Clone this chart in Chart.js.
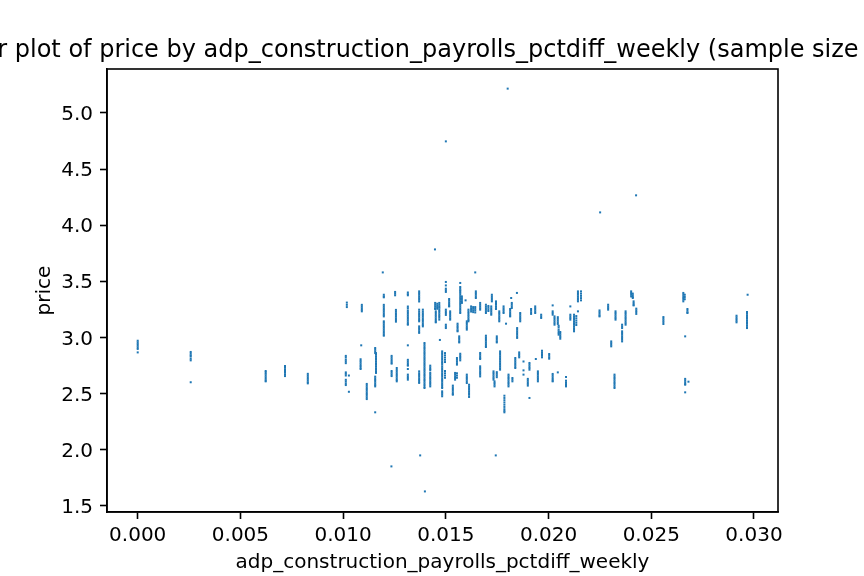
<!DOCTYPE html>
<html>
<head>
<meta charset="utf-8">
<script src="https://cdn.jsdelivr.net/npm/chart.js@4.4.0/dist/chart.umd.min.js"></script>
<style>
  html, body { margin: 0; padding: 0; background: #fff; }
</style>
</head>
<body>
<canvas id="price_scatter" width="864" height="576"></canvas>
<script>
// weekly pct diff of adp construction payrolls, one entry per vertical streak
var weeklyPctDiff = [
    0.0, 0.00258, 0.00623, 0.00717, 0.00828, 0.01018, 0.01013, 0.01028, 0.01088, 0.01091,
    0.01085, 0.01115, 0.01156, 0.0116, 0.01193, 0.01198, 0.01235, 0.01236, 0.01253, 0.01257,
    0.01261, 0.01315, 0.0137, 0.01375, 0.01388, 0.01396, 0.01398, 0.01424, 0.01447, 0.01448,
    0.01458, 0.01468, 0.01451, 0.01471, 0.01482, 0.01496, 0.015, 0.01516, 0.01521, 0.01534,
    0.01545, 0.01554, 0.01557, 0.01565, 0.0157, 0.01578, 0.01596, 0.01602, 0.0161, 0.01613,
    0.01623, 0.01633, 0.01643, 0.01646, 0.01667, 0.01695, 0.01707, 0.01721, 0.01724, 0.01732,
    0.01737, 0.01743, 0.01744, 0.01748, 0.0176, 0.01764, 0.01781, 0.01785, 0.01793, 0.01801,
    0.01805, 0.01813, 0.01818, 0.01821, 0.01824, 0.01838, 0.01846, 0.01847, 0.01857, 0.01862,
    0.01878, 0.01899, 0.01907, 0.01915, 0.01935, 0.01938, 0.01948, 0.01964, 0.01968, 0.02003,
    0.0202, 0.02029, 0.02045, 0.02049, 0.02057, 0.02085, 0.02106, 0.02124, 0.02135, 0.02143,
    0.02158, 0.02248, 0.02251, 0.0229, 0.02305, 0.02321, 0.02326, 0.02358, 0.02375, 0.02402,
    0.0241, 0.02414, 0.02426, 0.02427, 0.02559, 0.02656, 0.02663, 0.02665, 0.02676, 0.02681,
    0.02915, 0.02969, 0.02966
];

// prices seen at each of the x values above (same order)
var prices = [
    [2.97, 2.955, 2.94, 2.925, 2.91, 2.897, 2.866],
    [2.87, 2.855, 2.84, 2.83, 2.81, 2.795, 2.60],
    [2.70, 2.688, 2.675, 2.66, 2.645, 2.63, 2.615, 2.608],
    [2.745, 2.73, 2.715, 2.70, 2.685, 2.67, 2.655],
    [2.675, 2.66, 2.645, 2.63, 2.615, 2.60, 2.59],
    [3.31, 3.29, 3.27],
    [2.835, 2.82, 2.80, 2.785, 2.77, 2.688, 2.675, 2.66, 2.622, 2.607, 2.59, 2.575],
    [2.66, 2.515],
    [2.929],
    [3.29, 3.275, 3.26, 3.245, 3.232],
    [2.805, 2.79, 2.775, 2.76, 2.745, 2.73, 2.718],
    [2.585, 2.57, 2.555, 2.54, 2.525, 2.51, 2.495, 2.48, 2.465, 2.45],
    [2.905, 2.89, 2.875, 2.86, 2.65, 2.635, 2.62, 2.605, 2.59, 2.575, 2.563, 2.332],
    [2.86, 2.845, 2.83, 2.815, 2.80, 2.785, 2.77, 2.755, 2.74, 2.725, 2.71, 2.695, 2.683],
    [3.579],
    [3.38, 3.365, 3.357, 3.29, 3.275, 3.26, 3.245, 3.23, 3.215, 3.20, 3.187, 3.143, 3.13, 3.115,
     3.10, 3.085, 3.07, 3.055, 3.04, 3.025, 3.015],
    [1.85],
    [2.835, 2.82, 2.805, 2.79, 2.775, 2.766, 2.70, 2.685, 2.67, 2.655],
    [3.405, 3.39, 3.375],
    [3.245, 3.23, 3.215, 3.20, 3.185, 3.17, 3.155, 3.14],
    [2.727, 2.71, 2.695, 2.68, 2.665, 2.65, 2.635, 2.62, 2.608],
    [3.40, 3.385, 3.375, 3.275, 3.26, 3.24, 3.225, 3.21, 3.195, 3.18, 3.165, 3.15, 3.135, 3.12,
     3.113, 2.929, 2.80, 2.785, 2.77, 2.755, 2.748, 2.718, 2.668, 2.653, 2.638, 2.623],
    [3.41, 3.395, 3.38, 3.365, 3.35, 3.335, 3.32, 3.247, 3.23, 3.215, 3.20, 3.185, 3.17, 3.155,
     3.143, 3.098, 3.083, 3.068, 3.053, 3.04, 2.697, 2.68, 2.665, 2.65, 2.635, 2.62, 2.605, 2.594],
    [1.948],
    [3.247, 3.23, 3.215, 3.20, 3.185, 3.17, 3.155, 3.14, 3.125, 3.11, 3.098],
    [2.95, 2.935, 2.92, 2.905, 2.89, 2.875, 2.86, 2.845, 2.83, 2.815, 2.80, 2.785, 2.77, 2.755,
     2.74, 2.725, 2.71, 2.695, 2.68, 2.665, 2.65, 2.635, 2.62, 2.605, 2.59, 2.575, 2.56, 2.549],
    [1.627],
    [2.748, 2.733, 2.718, 2.706, 2.683, 2.668, 2.653, 2.638, 2.623, 2.608, 2.593, 2.578, 2.563],
    [3.784],
    [3.307, 3.29, 3.275, 3.26, 3.253],
    [3.30, 3.285, 3.27, 3.255],
    [3.307, 3.29, 3.275, 3.265, 3.25, 3.235, 3.22, 3.205, 3.19, 3.175, 3.158],
    [3.232, 3.217, 3.20, 3.185, 3.17, 3.155, 3.14, 3.134],
    [2.977],
    [2.875, 2.86, 2.845, 2.83, 2.815, 2.80, 2.785, 2.772, 2.757, 2.74, 2.725, 2.71, 2.695, 2.68,
     2.665, 2.65, 2.635, 2.62, 2.605, 2.59, 2.575, 2.56, 2.549, 2.519, 2.505, 2.49, 2.475],
    [2.86, 2.84, 2.82, 2.80, 2.78, 2.70, 2.68, 2.66, 2.64],
    [4.747, 3.494, 3.463, 3.434, 3.42, 3.405, 3.247, 3.232, 3.217, 3.20, 3.113, 3.098, 3.083],
    [3.342, 3.327, 3.312, 3.297, 3.282, 3.276],
    [3.232, 3.217, 3.20, 3.185, 3.17, 3.158],
    [2.57, 2.555, 2.54, 2.525, 2.51, 2.495, 2.489],
    [2.683, 2.668, 2.653, 2.638, 2.623],
    [2.816, 2.80, 2.785, 2.77, 2.757, 2.68, 2.66, 2.64],
    [3.122, 3.107, 3.092, 3.077, 3.062, 3.054],
    [3.009, 2.994, 2.979, 2.964, 2.955],
    [3.485, 3.449, 3.434, 3.42, 3.41, 3.396, 3.38, 3.365, 3.35, 3.335, 3.32, 3.305, 3.29, 3.275,
     3.26, 3.245, 3.23, 3.217, 2.854, 2.84, 2.825, 2.81, 2.795],
    [3.365, 3.35, 3.335, 3.32, 3.307],
    [3.33],
    [3.143, 3.128, 3.113, 3.098, 3.083, 3.069, 2.668, 2.653, 2.638, 2.623, 2.608, 2.593],
    [3.247, 3.232, 3.217, 3.20, 3.185, 3.17, 3.155, 3.143],
    [2.578, 2.563, 2.548, 2.533, 2.518, 2.503, 2.488, 2.469],
    [3.276, 3.26, 3.245, 3.23],
    [3.27, 3.255, 3.24, 3.225],
    [3.579, 3.27, 3.255, 3.24, 3.222],
    [3.41, 3.395, 3.38, 3.365, 3.351],
    [3.307, 3.29, 3.275, 3.26, 3.247, 2.861, 2.846, 2.831, 2.816, 2.807, 2.742, 2.727, 2.712,
     2.697, 2.682, 2.667, 2.652],
    [3.291, 3.275, 3.26, 3.245, 3.23, 3.217, 3.015, 3.0, 2.985, 2.97, 2.955, 2.94, 2.925, 2.914],
    [3.28, 3.265, 3.25, 3.235],
    [3.276, 3.26, 3.245, 3.23, 3.215, 3.202],
    [3.38, 3.365, 3.35, 3.335, 3.321],
    [2.697, 2.682, 2.667, 2.652, 2.637, 2.623],
    [2.608, 2.593, 2.578, 2.563],
    [1.948],
    [3.321, 3.306, 3.291, 3.276, 3.261, 3.253],
    [3.009, 2.994, 2.979, 2.964, 2.955, 2.69, 2.675, 2.66, 2.645],
    [3.232, 3.217, 3.202, 3.187, 3.172, 3.157, 3.143],
    [2.875, 2.86, 2.845, 2.83, 2.815, 2.80, 2.785, 2.77, 2.755, 2.74, 2.725, 2.712],
    [3.276, 3.26, 3.245, 3.23, 3.217],
    [2.48, 2.46, 2.44, 2.42, 2.40, 2.38, 2.36, 2.345, 2.332],
    [3.122],
    [5.217],
    [2.668, 2.653, 2.638, 2.623, 2.608, 2.593, 2.578, 2.563],
    [3.253, 3.238, 3.223, 3.208, 3.193, 3.187],
    [3.351],
    [3.307, 3.292, 3.277, 3.262],
    [2.638, 2.623, 2.608],
    [2.816, 2.80, 2.785, 2.77, 2.755, 2.74, 2.727],
    [3.396],
    [3.083, 3.068, 3.053, 3.038, 3.023, 3.008, 2.995],
    [2.866, 2.851, 2.836, 2.822],
    [3.217, 3.202, 3.187, 3.172, 3.157, 3.143],
    [2.785, 2.706, 2.668],
    [2.63, 2.615, 2.60, 2.585, 2.57],
    [2.772, 2.757, 2.742, 2.727, 2.712, 2.46],
    [3.253, 3.238, 3.223, 3.209],
    [3.276, 3.261, 3.246, 3.231, 3.217],
    [2.807],
    [2.697, 2.682, 2.667, 2.652, 2.637, 2.622, 2.608],
    [3.202, 3.187, 3.173],
    [2.881, 2.866, 2.851, 2.836, 2.822],
    [2.852, 2.837, 2.822, 2.81],
    [3.285, 3.232, 3.217, 3.202, 2.674, 2.659, 2.644, 2.629, 2.614, 2.608],
    [3.187, 3.172, 3.157, 3.142, 3.127, 3.113],
    [3.18, 3.165, 3.15, 3.135, 3.12, 2.688],
    [3.104, 3.089, 3.069, 3.054, 3.039, 3.024],
    [3.048, 3.033, 3.018, 3.003, 2.988],
    [2.647, 2.614, 2.599, 2.584, 2.569, 2.563],
    [3.276, 3.202, 3.187, 3.172, 3.158],
    [3.202, 3.187, 3.172, 3.157, 3.142, 3.127, 3.112, 3.097, 3.082, 3.067, 3.054],
    [3.19, 3.17, 3.15, 3.13, 3.11],
    [3.232, 3.41, 3.395, 3.38, 3.365, 3.35, 3.335, 3.321],
    [3.41, 3.39, 3.37, 3.35, 3.33],
    [3.24, 3.225, 3.21, 3.195, 3.187],
    [4.114],
    [3.291, 3.276, 3.261, 3.247],
    [2.964, 2.949, 2.934, 2.92],
    [2.668, 2.653, 2.638, 2.623, 2.608, 2.593, 2.578, 2.563, 2.549],
    [3.232, 3.217, 3.202, 3.187, 3.172, 3.158],
    [3.113, 3.098, 3.083, 3.054, 3.039, 3.024, 3.009, 2.994, 2.979, 2.964],
    [3.232, 3.217, 3.202, 3.187, 3.172, 3.157, 3.142, 3.127, 3.113],
    [3.41, 3.395, 3.38, 3.365],
    [3.39, 3.375, 3.36, 3.351],
    [3.321, 3.306, 3.291, 3.285],
    [4.266],
    [3.256, 3.241, 3.226, 3.209],
    [3.181, 3.166, 3.151, 3.136, 3.119],
    [3.396, 3.381, 3.366, 3.351, 3.336, 3.321],
    [3.38, 3.36, 3.34],
    [3.009, 2.63, 2.615, 2.60, 2.585, 2.578, 2.51],
    [3.253, 3.238, 3.223, 3.217],
    [2.605],
    [3.193, 3.178, 3.163, 3.148, 3.134],
    [3.38],
    [3.226, 3.211, 3.196, 3.181, 3.166, 3.151, 3.136, 3.121, 3.106, 3.091, 3.083]
];

var xTicks = [0.000, 0.005, 0.010, 0.015, 0.020, 0.025, 0.030];
var yTicks = [1.5, 2.0, 2.5, 3.0, 3.5, 4.0, 4.5, 5.0];

var xName = 'adp_construction_payrolls_pctdiff_weekly';
var yName = 'price';
var chartTitle = 'Scatter plot of price by ' + xName + ' (sample size = 1000)';

// flatten the streaks into scatter points
var points = [];
weeklyPctDiff.forEach(function (x, i) {
    prices[i].forEach(function (y) {
        points.push({ x: x, y: y });
    });
});

var tickFont = { family: 'DejaVu Sans', size: 20 };

// matplotlib-like frame and an overflowing title (Chart.js title would squeeze it)
var frameAndTitle = {
    id: 'frameAndTitle',
    afterDraw: function (chart) {
        var ctx = chart.ctx, a = chart.chartArea;
        ctx.save();
        ctx.strokeStyle = '#000';
        ctx.lineWidth = 1.6;
        ctx.strokeRect(a.left, a.top, a.right - a.left, a.bottom - a.top);
        ctx.fillStyle = '#000';
        ctx.font = '24px "DejaVu Sans"';
        ctx.textAlign = 'center';
        ctx.textBaseline = 'alphabetic';
        ctx.fillText(chartTitle, (a.left + a.right) / 2, 57);
        ctx.restore();
    }
};

var ctx = document.getElementById('price_scatter').getContext('2d');

var myChart = new Chart(ctx, {
    type: 'scatter',
    data: {
        datasets: [{
            label: yName,
            data: points,
            pointStyle: 'rect',
            pointRadius: 1.42,
            pointBorderWidth: 0,
            backgroundColor: '#1f77b4',
            borderColor: '#1f77b4'
        }]
    },
    options: {
        responsive: false,
        animation: false,
        devicePixelRatio: 1,
        layout: { padding: { top: 69, right: 86, left: 0, bottom: 0 } },
        plugins: {
            legend: { display: false },
            tooltip: { enabled: false },
            title: { display: false }
        },
        scales: {
            x: {
                type: 'linear',
                min: -0.001495,
                max: 0.031169,
                afterBuildTicks: function (scale) {
                    scale.ticks = xTicks.map(function (v) { return { value: v }; });
                },
                afterFit: function (scale) { scale.height = 64; },
                ticks: {
                    color: '#000',
                    font: tickFont,
                    padding: 5,
                    maxRotation: 0,
                    autoSkip: false,
                    callback: function (v) { return v.toFixed(3); }
                },
                grid: { drawOnChartArea: false, color: '#000', tickColor: '#000', tickLength: 7, tickWidth: 1.6 },
                border: { display: true, color: '#000', width: 1.6 },
                title: { display: true, text: xName, color: '#000', font: tickFont, padding: { top: 0, bottom: 1 } }
            },
            y: {
                type: 'linear',
                min: 1.4435,
                max: 5.392,
                afterBuildTicks: function (scale) {
                    scale.ticks = yTicks.map(function (v) { return { value: v }; });
                },
                afterFit: function (scale) { scale.width = 107; },
                ticks: {
                    color: '#000',
                    font: tickFont,
                    padding: 7,
                    labelOffset: 2,
                    autoSkip: false,
                    callback: function (v) { return v.toFixed(1); }
                },
                grid: { drawOnChartArea: false, color: '#000', tickColor: '#000', tickLength: 7, tickWidth: 1.6 },
                border: { display: true, color: '#000', width: 1.6 },
                title: { display: true, text: yName, color: '#000', font: tickFont, padding: { top: 33, bottom: 0 } }
            }
        }
    },
    plugins: [frameAndTitle]
});
</script>
</body>
</html>
